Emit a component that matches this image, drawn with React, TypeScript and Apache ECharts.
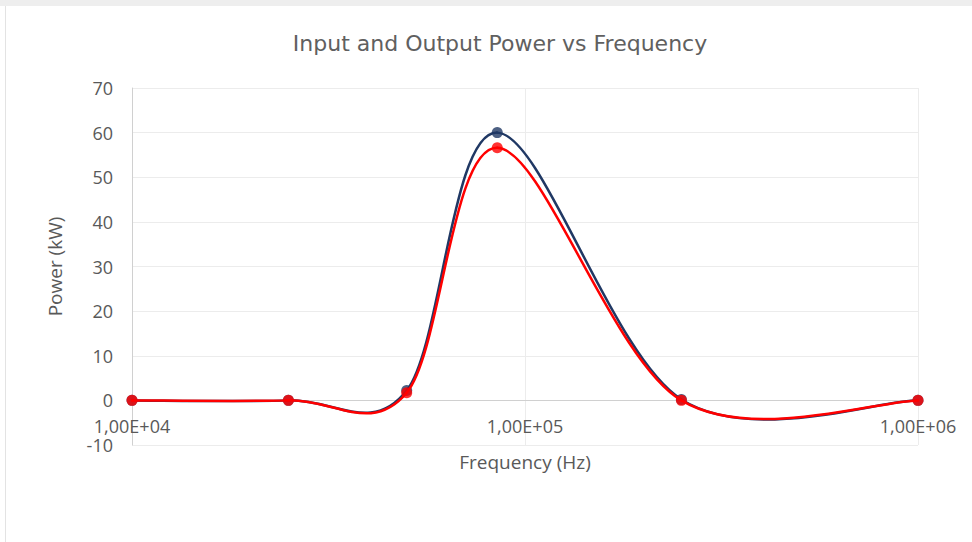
import React, { useEffect, useRef } from "react";
import * as echarts from "echarts";

// Measurement frequencies (Hz)
const frequencies = [1e4, 2.5e4, 5e4, 8.5e4, 2.5e5, 1e6];
// Input and output power (kW)
const inputPower = [0, 0, 2.2, 60, 0.2, 0];
const outputPower = [0, 0, 1.7, 56.6, 0, 0];

const yTicks = { min: -10, max: 70, interval: 10 };

const TEXT = "#595959";
const FONT = "'Open Sans', 'Noto Sans', sans-serif";
const BLUE = "#203864";
const RED = "#ff0000";

function fmtSci(v: number): string {
  const exp = Math.round(Math.log10(v));
  const mant = v / Math.pow(10, exp);
  const sign = exp >= 0 ? "+" : "-";
  return mant.toFixed(2).replace(".", ",") + "E" + sign + String(Math.abs(exp)).padStart(2, "0");
}

// Smoothed line drawn as cardinal (Catmull-Rom) bezier segments in pixel space.
function smoothCurve(name: string, values: number[], color: string, z: number) {
  const n = values.length;
  return {
    name,
    type: "custom",
    z,
    data: frequencies.map((f, i) => [f, values[i]]),
    renderItem: (params: any, api: any) => {
      const i = params.dataIndex;
      if (i === 0) return { type: "group", children: [] };
      const pt = (k: number) => api.coord([frequencies[k], values[k]]);
      const p0 = pt(Math.max(i - 2, 0));
      const p1 = pt(i - 1);
      const p2 = pt(i);
      const p3 = pt(Math.min(i + 1, n - 1));
      return {
        type: "bezierCurve",
        shape: {
          x1: p1[0],
          y1: p1[1],
          cpx1: p1[0] + (p2[0] - p0[0]) / 6,
          cpy1: p1[1] + (p2[1] - p0[1]) / 6,
          cpx2: p2[0] - (p3[0] - p1[0]) / 6,
          cpy2: p2[1] - (p3[1] - p1[1]) / 6,
          x2: p2[0],
          y2: p2[1],
        },
        style: { stroke: color, lineWidth: 2.5, fill: null, lineCap: "round" },
      };
    },
  };
}

function markers(name: string, values: number[], color: string, z: number) {
  return {
    name,
    type: "scatter",
    z,
    data: frequencies.map((f, i) => [f, values[i]]),
    symbol: "circle",
    symbolSize: 11,
    itemStyle: { color },
  };
}

export default function App() {
  const ref = useRef<HTMLDivElement>(null);

  useEffect(() => {
    if (!ref.current) return;
    const chart = echarts.init(ref.current, undefined, { renderer: "svg" });

    chart.setOption({
      animation: false,
      backgroundColor: "#ffffff",
      title: {
        text: "Input and Output Power vs Frequency",
        left: 495,
        top: 27,
        textAlign: "center",
        textStyle: { color: "#606060", fontSize: 22, fontWeight: "normal", fontFamily: "'DejaVu Sans', sans-serif" },
      },
      graphic: [
        { type: "rect", shape: { x: 0, y: 0, width: 972, height: 6 }, style: { fill: "#eeeeee" }, silent: true },
        { type: "line", shape: { x1: 5.5, y1: 6, x2: 5.5, y2: 542 }, style: { stroke: "#e3e3e3", lineWidth: 1 }, silent: true },
      ],
      grid: { left: 132, right: 54, top: 88, bottom: 97 },
      xAxis: {
        type: "log",
        logBase: 10,
        min: 1e4,
        max: 1e6,
        name: "Frequency (Hz)",
        nameLocation: "middle",
        nameGap: 7,
        nameTextStyle: { color: TEXT, fontSize: 19, fontFamily: FONT },
        axisLine: { onZero: true, lineStyle: { color: "#d0d0d0", width: 1 } },
        axisTick: { show: false },
        axisLabel: {
          color: TEXT,
          fontSize: 18,
          fontFamily: FONT,
          margin: -28,
          formatter: (v: number) => fmtSci(v),
        },
        splitLine: { show: true, lineStyle: { color: "#ececec", width: 1 } },
        minorTick: { show: false },
      },
      yAxis: {
        type: "value",
        min: yTicks.min,
        max: yTicks.max,
        interval: yTicks.interval,
        name: "Power (kW)",
        nameLocation: "middle",
        nameGap: 68,
        nameTextStyle: { color: TEXT, fontSize: 19, fontFamily: FONT },
        axisLine: { show: true, onZero: false, lineStyle: { color: "#d0d0d0", width: 1 } },
        axisTick: { show: false },
        axisLabel: { color: TEXT, fontSize: 18, fontFamily: FONT, margin: 19 },
        splitLine: { show: true, lineStyle: { color: "#ececec", width: 1 } },
      },
      series: [
        smoothCurve("Input Power", inputPower, BLUE, 2),
        markers("Input Power", inputPower, BLUE, 3),
        smoothCurve("Output Power", outputPower, RED, 4),
        markers("Output Power", outputPower, RED, 5),
      ],
    });

    return () => chart.dispose();
  }, []);

  return (
    <div
      ref={ref}
      style={{ position: "fixed", left: 0, top: 0, width: 972, height: 542 }}
    />
  );
}
